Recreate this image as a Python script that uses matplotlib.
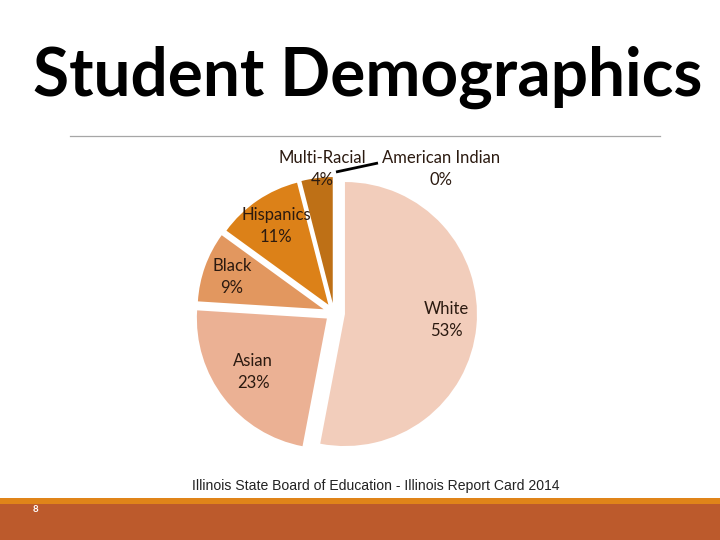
import matplotlib
matplotlib.use("Agg")
import matplotlib.pyplot as plt

categories = ["White", "Asian", "Black", "Hispanics", "Multi-Racial", "American Indian"]
values = [53, 23, 9, 11, 4, 0]
colors = ["#F2CDBB", "#EBB194", "#E2975F", "#DC8118", "#BE7016", "#A85A10"]
# how far each slice is pulled out of the pie, in pixels
pull = [11, 9, 11, 10, 10, 10]
# the slices in the picture are not quite the same size
radii = [132, 130, 126, 126, 126, 126]
labels = ["White\n53%", "Asian\n23%", "Black\n9%", "Hispanics\n11%", "Multi-Racial\n4%", "American Indian\n0%"]
label_x = [446, 253, 232, 276, 322, 441]
label_y = [320, 372, 277, 226, 169, 169]

plt.rcParams['font.family'] = ['Lato', 'DejaVu Sans']

fig = plt.figure(figsize=(7.2, 5.4), dpi=100)
ax = fig.add_axes([0, 0, 1, 1])

wedges, _ = ax.pie(values, colors=colors, explode=pull, startangle=90, counterclock=False,
                   radius=126, center=(334, 227), wedgeprops={'linewidth': 0})
for w, r in zip(wedges, radii):
    w.set_radius(r)
ax.set_xlim(0, 720)
ax.set_ylim(0, 540)
ax.axis('off')

# footer bands and the rule under the title
ax.fill_between([0, 720], 36, 42, color="#E08419", lw=0)
ax.fill_between([0, 720], 0, 36, color="#BC5A2C", lw=0)
ax.plot([70, 660], [404, 404], color="#A6A6A6", lw=0.9)

# leader line for the American Indian slice
ax.plot([336, 378], [368, 377], color="black", lw=2, solid_capstyle='butt')

for name, x, y in zip(labels, label_x, label_y):
    ax.text(x, 540 - y, name, ha='center', va='center', fontsize=12,
            color="#2B1A10", linespacing=1.45)

ax.text(367.5, 444, "Student Demographics", ha='center', va='baseline', fontsize=47.3,
        fontweight='bold', color="black")
ax.text(375.5, 54, "Illinois State Board of Education - Illinois Report Card 2014",
        ha='center', va='center', fontsize=10.05, family='Liberation Sans', color="#222222")
ax.text(35, 31, "8", ha='center', va='center', fontsize=7, color="white", fontweight='bold')

fig.savefig("out.png", dpi=100)
